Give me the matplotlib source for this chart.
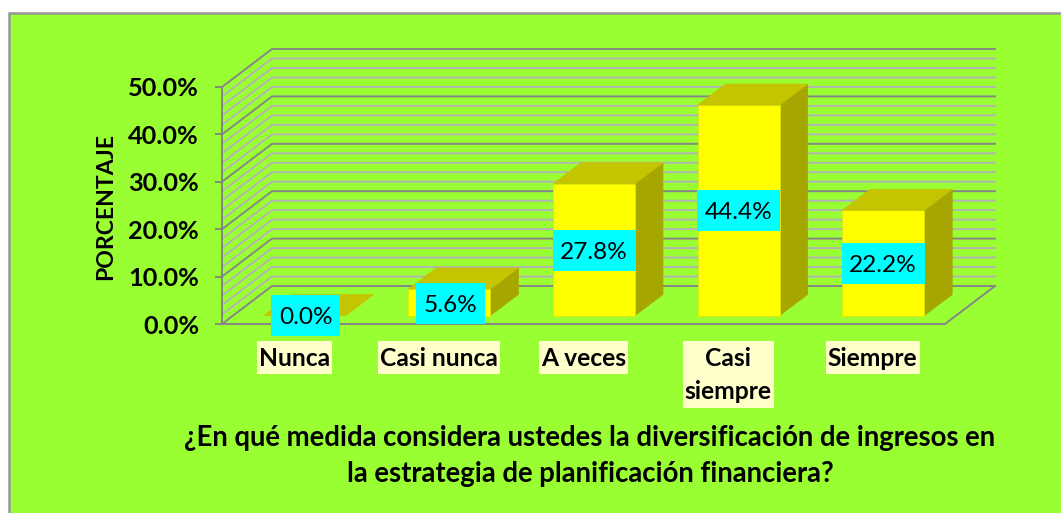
#!/usr/bin/env python3

import matplotlib
matplotlib.use('Agg')
import matplotlib.pyplot as plt
from matplotlib.patches import Polygon, Rectangle
from matplotlib.transforms import IdentityTransform

categories = ['Nunca', 'Casi nunca', 'A veces', 'Casi\nsiempre', 'Siempre']
values = [0.0, 5.6, 27.8, 44.4, 22.2]
value_labels = ['0.0%', '5.6%', '27.8%', '44.4%', '22.2%']
y_major = [0, 10, 20, 30, 40, 50]
y_major_labels = ['0.0%', '10.0%', '20.0%', '30.0%', '40.0%', '50.0%']
y_minor = [v for v in range(0, 51, 2) if v % 10 != 0]
title = '¿En qué medida considera ustedes la diversificación de ingresos en\nla estrategia de planificación financiera?'

W, H = 1061, 513
GREEN = '#99FF33'
GRID = '#868686'
GRID_MINOR = '#B4B4B4'

plt.rcParams['font.family'] = ['Lato', 'DejaVu Sans']

fig = plt.figure(figsize=(W/100, H/100), dpi=100, facecolor='white')
# chart area with grey border, runs off the right and bottom edge
fig.add_artist(Rectangle((9/W, -0.05), 1.1, (H-13)/H+0.05, transform=fig.transFigure,
                         facecolor=GREEN, edgecolor='#969696', linewidth=1.8, zorder=-5))

ax = fig.add_axes([222/W, (H-324)/H, (945-222)/W, (324-87)/H])
ax.patch.set_visible(False)
ax.set_xlim(-0.5, 4.5)
ax.set_ylim(0, 50)

# px -> data units
px_x = 5/(945-222)
px_y = 50/(324-87)

# back wall and left wall
wall_dx = 50*px_x
wall_dy = 38*px_y
for v in y_minor + y_major:
    c = GRID if v in y_major else GRID_MINOR
    ax.plot([-0.5, -0.5+wall_dx, 4.5+wall_dx], [v, v+wall_dy, v+wall_dy], color=c, lw=1.4,
            clip_on=False, zorder=1, solid_joinstyle='miter')
ax.plot([4.5, 4.5+wall_dx], [0, wall_dy], color=GRID, lw=1.4, clip_on=False, zorder=1)

# bars
bar_w = 82*px_x
bar_dx = 28*px_x
bar_dy = 21*px_y
off_x = 10.5*px_x
off_y = 8.5*px_y
# the cyan boxes sit a little off the exact middle of the bars in the original
label_shift_px = [0, -1, -1, 0, -1]
for i, v in enumerate(values):
    x0 = i + off_x - bar_w/2
    x1 = x0 + bar_w
    y0 = off_y
    y1 = off_y + v
    if v > 0:
        ax.add_patch(Polygon([(x1, y0), (x1+bar_dx, y0+bar_dy), (x1+bar_dx, y1+bar_dy), (x1, y1)],
                             facecolor='#A6A600', edgecolor='#A6A600', lw=0.5, clip_on=False, zorder=2))
        ax.add_patch(Rectangle((x0, y0), bar_w, v, facecolor='#FFFF00', edgecolor='#E6E600', lw=0.5,
                               clip_on=False, zorder=2))
    ax.add_patch(Polygon([(x0, y1), (x1, y1), (x1+bar_dx, y1+bar_dy), (x0+bar_dx, y1+bar_dy)],
                         facecolor='#C4C400', edgecolor='#C4C400', lw=0.5, clip_on=False, zorder=2))

    # data label on cyan box
    lab = value_labels[i]
    narrow = len(lab) <= 4
    box_w = (69 if narrow else 83)*px_x
    box_h = 41*px_y
    cx = i + off_x + (1*px_x if narrow else 0)
    cy = off_y + v/2 + label_shift_px[i]*px_y
    ax.add_patch(Rectangle((cx-box_w/2, cy-box_h/2), box_w, box_h, facecolor='#00FFFF', edgecolor='none',
                           clip_on=False, zorder=3))
    ax.text(cx, cy, lab, ha='center', va='center_baseline', fontsize=17.6, color='black', zorder=4, clip_on=False)

# axes
for s in ['top', 'right']:
    ax.spines[s].set_visible(False)
for s in ['left', 'bottom']:
    ax.spines[s].set_color(GRID)
    ax.spines[s].set_linewidth(1.4)
    ax.spines[s].set_zorder(1.5)

ax.set_yticks(y_major)
ax.set_yticklabels(y_major_labels, fontsize=18.2, fontweight='bold')
ax.tick_params(axis='y', length=5, width=1.4, color=GRID, pad=11.5)
ax.set_xticks(range(len(categories)))
ax.set_xticklabels(categories, fontsize=17.7, fontweight='bold', linespacing=1.55)
ax.tick_params(axis='x', length=0, pad=16.5)

ax.set_ylabel('PORCENTAJE', fontsize=16.6, fontweight='bold', va='center')
ax.yaxis.set_label_coords(-(222-106)/(945-222), (324-206)/(324-87))

# pale yellow boxes behind the category labels
fig.canvas.draw()
for lab, txt in zip(ax.get_xticklabels(), categories):
    ext = lab.get_window_extent()
    n = txt.count('\n') + 1
    top = H - 341
    ax.add_patch(Rectangle((ext.x0-2, top-33*n-(n-1)), ext.width+4, 33*n+(n-1), transform=IdentityTransform(),
                           facecolor='#FFFFCC', edgecolor='none', clip_on=False, zorder=1))

fig.text(590/W, 1-456/H, title, ha='center', va='center', fontsize=19.8, fontweight='bold',
         linespacing=1.43, color='black')

fig.savefig('out.png', dpi=100)
